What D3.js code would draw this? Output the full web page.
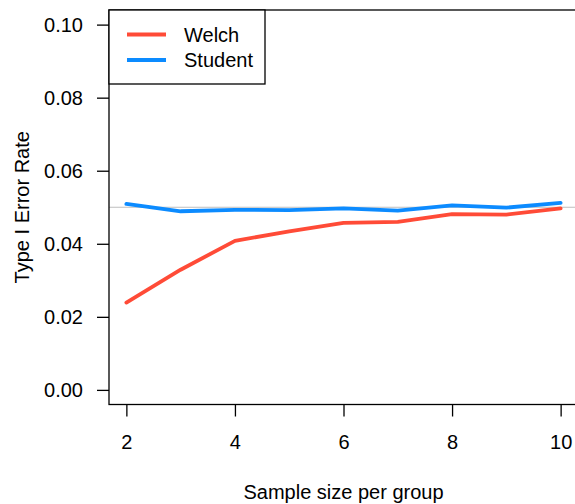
<!DOCTYPE html>
<html>
<head>
<meta charset="utf-8">
<script src="https://cdn.jsdelivr.net/npm/d3@7"></script>
<style>
  html, body { margin: 0; padding: 0; background: #fff; }
</style>
</head>
<body>
<div id="container"></div>
<script>
// data
const sampleSizes = [2, 3, 4, 5, 6, 7, 8, 9, 10];
const welch   = [0.0239, 0.0329, 0.0408, 0.0434, 0.0457, 0.0460, 0.0481, 0.0480, 0.0497];
const student = [0.0509, 0.0489, 0.0493, 0.0492, 0.0497, 0.0491, 0.0505, 0.0499, 0.0512];
const alphaLevel = 0.05;
const yTicks = [0, 0.02, 0.04, 0.06, 0.08, 0.10];
const xTicks = [2, 4, 6, 8, 10];

const width = 575, height = 504;
const box = { left: 109, right: 578, top: 10, bottom: 404.5 };
const font = "'Liberation Sans', Arial, Helvetica, sans-serif";
const fs = 20;

const svg = d3.select("#container")
  .append("svg")
  .attr("width", width)
  .attr("height", height)
  .style("font-family", font)
  .style("display", "block");

// R style: 4% padding around data range
const xPad = (10 - 2) * 0.04, yPad = 0.1 * 0.04;
const x = d3.scaleLinear().domain([2 - xPad, 10 + xPad]).range([box.left, box.right]);
const y = d3.scaleLinear().domain([0 - yPad, 0.1 + yPad]).range([box.bottom, box.top]);

// reference line at 0.05
svg.append("line")
  .attr("x1", box.left).attr("x2", box.right)
  .attr("y1", y(alphaLevel)).attr("y2", y(alphaLevel))
  .attr("stroke", "#bebebe")
  .attr("stroke-width", 1);

const line = d3.line()
  .x((d, i) => x(sampleSizes[i]))
  .y(d => y(d));

svg.append("path")
  .datum(welch)
  .attr("fill", "none")
  .attr("stroke", "#ff4b37")
  .attr("stroke-width", 3.8)
  .attr("stroke-linejoin", "round")
  .attr("stroke-linecap", "round")
  .attr("d", line);

svg.append("path")
  .datum(student)
  .attr("fill", "none")
  .attr("stroke", "#0c8bff")
  .attr("stroke-width", 3.8)
  .attr("stroke-linejoin", "round")
  .attr("stroke-linecap", "round")
  .attr("d", line);

// box
svg.append("rect")
  .attr("x", box.left).attr("y", box.top)
  .attr("width", box.right - box.left)
  .attr("height", box.bottom - box.top)
  .attr("fill", "none")
  .attr("stroke", "#000")
  .attr("stroke-width", 1.3);

// axes
const yAxis = svg.append("g")
  .attr("transform", `translate(${box.left},0)`)
  .call(d3.axisLeft(y).tickValues(yTicks).tickFormat(d3.format(".2f")).tickSize(12).tickPadding(14));

const xAxis = svg.append("g")
  .attr("transform", `translate(0,${box.bottom})`)
  .call(d3.axisBottom(x).tickValues(xTicks).tickFormat(d3.format("d")).tickSize(12).tickPadding(18));

[yAxis, xAxis].forEach(g => {
  g.select(".domain").remove();
  g.selectAll("line").attr("stroke", "#000").attr("stroke-width", 1.3);
  g.selectAll("text")
    .attr("fill", "#000")
    .style("font-family", font)
    .style("font-size", fs + "px");
});

// axis titles
svg.append("text")
  .attr("x", (box.left + box.right) / 2)
  .attr("y", 499)
  .attr("text-anchor", "middle")
  .style("font-size", fs + "px")
  .text("Sample size per group");

svg.append("text")
  .attr("transform", `translate(29,${(box.top + box.bottom) / 2}) rotate(-90)`)
  .attr("text-anchor", "middle")
  .style("font-size", fs + "px")
  .text("Type I Error Rate");

// legend
const legendItems = [
  { name: "Welch", color: "#ff4b37" },
  { name: "Student", color: "#0c8bff" }
];

const legend = svg.append("g");
legend.append("rect")
  .attr("x", box.left).attr("y", box.top)
  .attr("width", 156).attr("height", 74)
  .attr("fill", "#fff")
  .attr("stroke", "#000")
  .attr("stroke-width", 1.3);

legendItems.forEach((d, i) => {
  const cy = 34.5 + i * 25.5;
  legend.append("line")
    .attr("x1", 127).attr("x2", 166)
    .attr("y1", cy).attr("y2", cy)
    .attr("stroke", d.color)
    .attr("stroke-width", 3.8);
  legend.append("text")
    .attr("x", 184)
    .attr("y", cy)
    .attr("dy", "0.35em")
    .style("font-size", fs + "px")
    .text(d.name);
});
</script>
</body>
</html>
